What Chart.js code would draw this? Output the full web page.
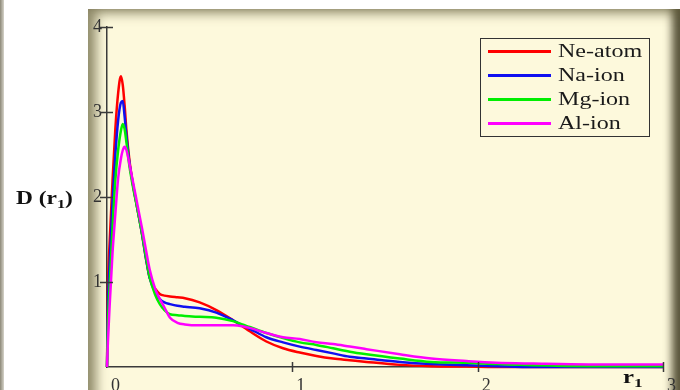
<!DOCTYPE html>
<html>
<head>
<meta charset="utf-8">
<script src="https://cdn.jsdelivr.net/npm/chart.js@4.4.0/dist/chart.umd.min.js"></script>
<style>
  html, body { margin: 0; padding: 0; background: #fff; }
  #wrap { position: relative; width: 680px; height: 390px; overflow: hidden; }
  #edge { position: absolute; left: 0; top: 0; width: 4px; height: 390px;
    background: linear-gradient(to right, #8c8878, #d6d4ca); }
  #panel { position: absolute; left: 88px; top: 9px; width: 592px; height: 400px; background: #fdf9dc;
    box-shadow: inset 14px 10px 12px -6px rgba(95, 90, 55, 0.7),
                inset -13px 0 8px -5px rgba(70, 65, 40, 0.9); }
  canvas { position: absolute; left: 0; top: 0; }
  .lbl { position: absolute; font-family: "Liberation Serif", "Times New Roman", serif; color: #111;
    white-space: nowrap; transform: scaleX(1.3); transform-origin: left top; }
  .lbl sub { font-size: 70%; vertical-align: -0.3em; line-height: 0; }
  #ylab { left: 16px; top: 188px; font-size: 18px; font-weight: bold; }
  #xlab { left: 623px; top: 366px; font-size: 19px; font-weight: bold; }
  #legend { position: absolute; left: 480px; top: 38px; width: 168px; height: 97px;
    border: 1.5px solid #333; }
  #legend .row { position: absolute; left: 0; height: 24px; width: 100%; }
  #legend .swatch { position: absolute; left: 7px; top: 10px; width: 63px; height: 2.5px; }
  #legend .name { position: absolute; left: 77px; top: 0; font-size: 18.5px; line-height: 22px; color: #1a1a1a; }
</style>
</head>
<body>
<div id="wrap">
  <div id="edge"></div>
  <div id="panel"></div>
  <canvas id="chart" width="680" height="390"></canvas>
  <div id="legend"></div>
  <div id="ylab" class="lbl">D (r<sub>1</sub>)</div>
  <div id="xlab" class="lbl">r<sub>1</sub></div>
</div>
<script>
// radial distance grid
const r1 = [0, 0.005, 0.015, 0.03, 0.045, 0.06, 0.075, 0.085, 0.095, 0.105,
  0.12, 0.14, 0.165, 0.19, 0.21, 0.23, 0.26, 0.285, 0.31, 0.34,
  0.38, 0.42, 0.5, 0.59, 0.68, 0.73, 0.77, 0.86, 0.95, 1.04,
  1.13, 1.22, 1.31, 1.4, 1.58, 1.75, 1.94, 2.1, 2.3, 2.6, 3.0];

const neAtom = [0, 0.9, 1.5, 2.2, 2.8, 3.22, 3.42, 3.32, 3.08, 2.78,
  2.45, 2.15, 1.85, 1.55, 1.28, 1.05, 0.92, 0.86, 0.84, 0.83,
  0.82, 0.81, 0.76, 0.67, 0.55, 0.48, 0.42, 0.3, 0.22, 0.17,
  0.13, 0.1, 0.08, 0.06, 0.025, 0.01, 0.005, 0, 0, 0, 0];

const naIon = [0, 0.7, 1.25, 1.95, 2.5, 2.9, 3.11, 3.13, 2.95, 2.72,
  2.42, 2.15, 1.85, 1.55, 1.28, 1.05, 0.88, 0.8, 0.76, 0.74,
  0.72, 0.71, 0.69, 0.64, 0.55, 0.49, 0.45, 0.35, 0.29, 0.24,
  0.2, 0.16, 0.12, 0.1, 0.06, 0.035, 0.02, 0.01, 0, 0, 0];

const mgIon = [0, 0.5, 1.0, 1.65, 2.2, 2.55, 2.78, 2.86, 2.8, 2.64,
  2.38, 2.12, 1.85, 1.56, 1.3, 1.06, 0.85, 0.74, 0.67, 0.62,
  0.61, 0.6, 0.59, 0.58, 0.54, 0.5, 0.47, 0.4, 0.34, 0.29,
  0.26, 0.22, 0.18, 0.15, 0.1, 0.06, 0.05, 0.035, 0.02, 0.01, 0.01];

const alIon = [0, 0.3, 0.75, 1.35, 1.8, 2.22, 2.45, 2.55, 2.59, 2.55,
  2.4, 2.18, 1.9, 1.62, 1.38, 1.15, 0.92, 0.8, 0.7, 0.58,
  0.52, 0.5, 0.49, 0.49, 0.49, 0.48, 0.46, 0.4, 0.35, 0.33,
  0.29, 0.27, 0.24, 0.21, 0.15, 0.1, 0.07, 0.05, 0.04, 0.03, 0.03];

const seriesNames = ['Ne-atom', 'Na-ion', 'Mg-ion', 'Al-ion'];
const seriesColors = ['#ff0000', '#1010f0', '#00ee00', '#ff00ff'];
const seriesValues = [neAtom, naIon, mgIon, alIon];

const AXIS = '#3a3a3a';
const SERIF = '"Liberation Serif", "Times New Roman", serif';

const datasets = seriesNames.map((name, i) => ({
    label: name,
    data: r1.map((r, k) => ({ x: r, y: seriesValues[i][k] })),
    borderColor: seriesColors[i],
    borderWidth: 2.5,
    pointRadius: 0,
    cubicInterpolationMode: 'monotone',
    order: seriesNames.length - i,
    clip: 6
}));

// tick marks that cross the axis lines
const crossTicks = {
    id: 'crossTicks',
    afterDraw(chart) {
        const { ctx, chartArea: a, scales: { x, y } } = chart;
        ctx.save();
        ctx.strokeStyle = AXIS;
        ctx.lineWidth = 1.5;
        ctx.beginPath();
        [1, 2, 3, 4].forEach(v => {
            const py = Math.round(y.getPixelForValue(v)) + 0.5;
            ctx.moveTo(a.left - 7, py);
            ctx.lineTo(a.left + 6, py);
        });
        [1, 2, 3].forEach(v => {
            const px = Math.round(x.getPixelForValue(v)) + 0.5;
            ctx.moveTo(px, a.bottom - 5);
            ctx.lineTo(px, a.bottom + 5);
        });
        ctx.stroke();
        ctx.restore();
    }
};

new Chart(document.getElementById('chart'), {
    type: 'line',
    data: { datasets },
    options: {
        responsive: false,
        animation: false,
        layout: { padding: { left: 0, top: 27, right: 15, bottom: 0 } },
        plugins: { legend: { display: false }, tooltip: { enabled: false } },
        scales: {
            x: {
                type: 'linear', min: 0, max: 3,
                grid: { display: false, tickLength: 0 },
                border: { display: true, color: AXIS, width: 1.5 },
                ticks: { stepSize: 1, align: 'start', labelOffset: 4, padding: 8,
                    color: '#333', font: { family: SERIF, size: 18 } },
                afterFit(s) { s.height = 23; }
            },
            y: {
                min: 0, max: 4,
                grid: { display: false, tickLength: 0 },
                border: { display: true, color: AXIS, width: 1.5 },
                ticks: { stepSize: 1, padding: 5, color: '#333', font: { family: SERIF, size: 18 },
                    callback: v => (v === 0 ? '' : v) },
                afterFit(s) { s.width = 107; }
            }
        }
    },
    plugins: [crossTicks]
});

// boxed legend
const legend = document.getElementById('legend');
seriesNames.forEach((name, i) => {
    const row = document.createElement('div');
    row.className = 'row';
    row.style.top = (1 + i * 24) + 'px';
    row.innerHTML = '<span class="swatch" style="background:' + seriesColors[i] + '"></span>' +
        '<span class="name lbl">' + name + '</span>';
    legend.appendChild(row);
});
</script>
</body>
</html>
